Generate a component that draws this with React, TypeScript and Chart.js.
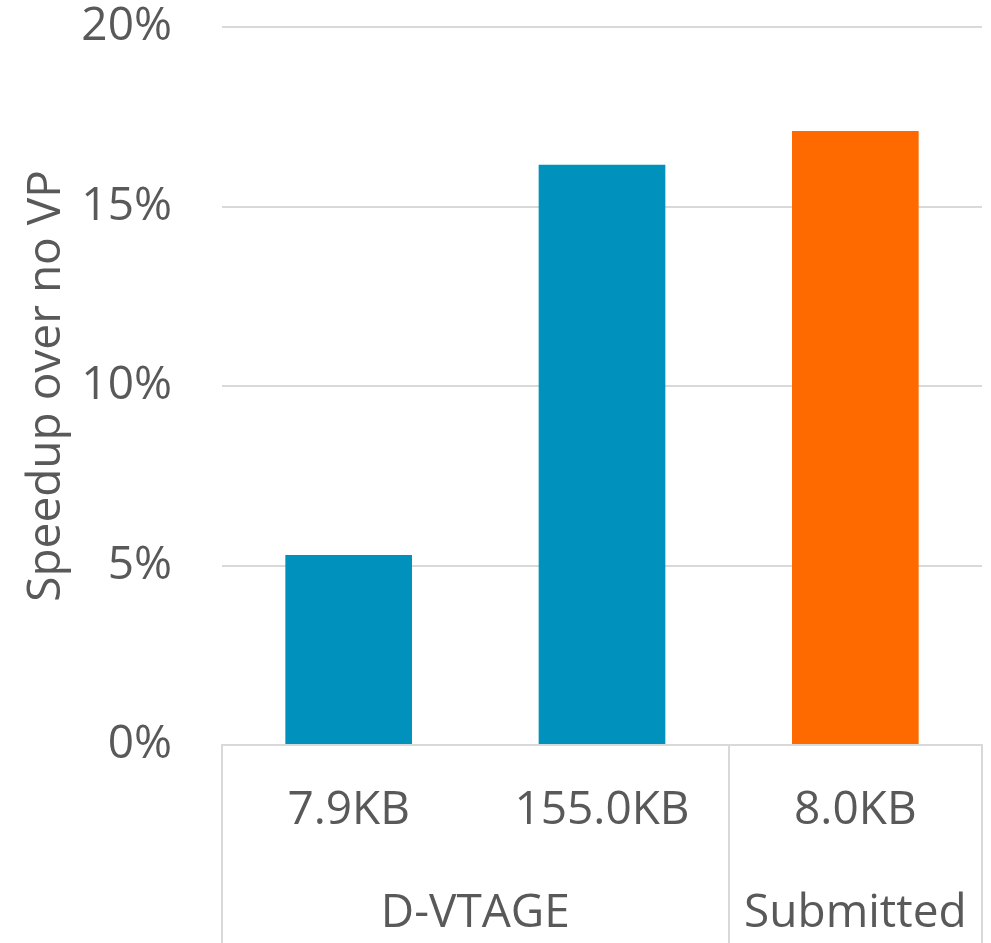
import React, { useEffect, useRef } from "react";
import { Chart, registerables } from "chart.js";

Chart.register(...registerables);

const categories = ["7.9KB", "155.0KB", "8.0KB"];
const groups = [
  { label: "D-VTAGE", from: 0, to: 1 },
  { label: "Submitted", from: 2, to: 2 },
];
const speedup = [5.29, 16.16, 17.1];
const barColors = ["#0092BC", "#0092BC", "#FF6A00"];
const yTicks = [0, 5, 10, 15, 20];

const FONT = "'Open Sans', 'DejaVu Sans', sans-serif";
const TEXT = "#595959";
const LINE = "#d9d9d9";

const groupPlugin = {
  id: "groupAxis",
  afterDraw(chart: any) {
    const { ctx, scales } = chart;
    const x = scales.x;
    const area = chart.chartArea;
    const n = categories.length;
    const step = (area.right - area.left) / n;
    const bottom = chart.height;
    ctx.save();
    ctx.strokeStyle = LINE;
    ctx.lineWidth = 2;
    const bounds = new Set<number>();
    bounds.add(0);
    groups.forEach((g) => bounds.add(g.to + 1));
    bounds.forEach((b) => {
      const px = Math.round(area.left + step * b);
      ctx.beginPath();
      ctx.moveTo(px, area.bottom);
      ctx.lineTo(px, bottom);
      ctx.stroke();
    });
    ctx.fillStyle = TEXT;
    ctx.font = `46px ${FONT}`;
    ctx.textAlign = "center";
    ctx.textBaseline = "middle";
    groups.forEach((g) => {
      const cx = (x.getPixelForValue(g.from) + x.getPixelForValue(g.to)) / 2;
      ctx.fillText(g.label, cx, 914);
    });
    ctx.restore();
  },
};

export default function App() {
  const ref = useRef<HTMLCanvasElement | null>(null);
  useEffect(() => {
    if (!ref.current) return;
    const chart = new Chart(ref.current, {
      type: "bar",
      data: {
        labels: categories,
        datasets: [
          {
            data: speedup,
            backgroundColor: barColors,
            categoryPercentage: 1,
            barPercentage: 0.5,
          },
        ],
      },
      options: {
        animation: false,
        responsive: true,
        maintainAspectRatio: false,
        layout: { padding: { top: 27, right: 9, left: 0, bottom: 0 } },
        plugins: { legend: { display: false }, tooltip: { enabled: false } },
        scales: {
          x: {
            grid: { display: false, drawTicks: false },
            border: { display: true, color: LINE, width: 2 },
            ticks: {
              color: TEXT,
              font: { family: FONT, size: 46 },
              padding: 38,
              maxRotation: 0,
            },
            afterFit(scale: any) {
              scale.height = 198;
              scale.paddingLeft = 0;
              scale.paddingRight = 0;
            },
          },
          y: {
            min: 0,
            max: 20,
            afterBuildTicks(scale: any) {
              scale.ticks = yTicks.map((v) => ({ value: v }));
            },
            grid: {
              color: (c: any) => (c.tick && c.tick.value === 0 ? "rgba(0,0,0,0)" : LINE),
              lineWidth: 2,
              drawTicks: false,
            },
            border: { display: false },
            ticks: {
              color: TEXT,
              font: { family: FONT, size: 46 },
              padding: 50,
              callback: (v: any) => `${v}%`,
            },
            title: {
              display: true,
              text: "Speedup over no VP",
              color: TEXT,
              font: { family: FONT, size: 46 },
              padding: { top: 19, bottom: 0 },
            },
            afterFit(scale: any) {
              scale.width = 222;
              scale.paddingTop = 0;
              scale.paddingBottom = 0;
            },
          },
        },
      },
      plugins: [groupPlugin],
    });
    return () => chart.destroy();
  }, []);
  return (
    <div style={{ position: "fixed", left: 0, top: 0, width: 991, height: 943, background: "#fff" }}>
      <canvas ref={ref} />
    </div>
  );
}
